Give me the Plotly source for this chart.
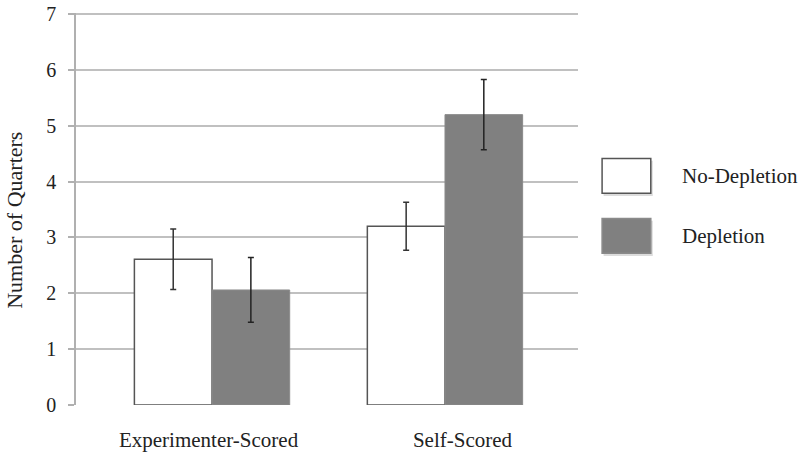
import plotly.graph_objects as go

categories = ["Experimenter-Scored", "Self-Scored"]
no_depletion = [2.61, 3.20]
no_depletion_err = [0.54, 0.43]
depletion = [2.06, 5.20]
depletion_err = [0.58, 0.63]
y_ticks = [0, 1, 2, 3, 4, 5, 6, 7]

serif = "Liberation Serif, Times New Roman, serif"
x_pos = list(range(len(categories)))
# the original's category labels sit a little off the bar-pair centres
label_shift = [-0.015, 0.075]

fig = go.Figure()
fig.add_trace(go.Bar(
    x=x_pos, y=no_depletion, name="No-Depletion",
    marker=dict(color="white", line=dict(color="#555555", width=1.5)),
    error_y=dict(type="data", array=no_depletion_err, color="#333333", thickness=1.5, width=3),
))
fig.add_trace(go.Bar(
    x=x_pos, y=depletion, name="Depletion",
    marker=dict(color="#808080", line=dict(color="#8a8a8a", width=1)),
    error_y=dict(type="data", array=depletion_err, color="#222222", thickness=1.5, width=3),
))

# legend drawn by hand (boxes with a soft shadow, like the original)
legend_items = [("No-Depletion", "white", "#555555"), ("Depletion", "#808080", "#8a8a8a")]
for i, (label, fill, edge) in enumerate(legend_items):
    y0 = 0.629 - i * 0.153
    fig.add_shape(type="rect", xref="paper", yref="paper",
                  x0=1.051, x1=1.149, y0=y0 - 0.096, y1=y0 - 0.006,
                  fillcolor="#dcdcdc", line=dict(width=0), layer="below")
    fig.add_shape(type="rect", xref="paper", yref="paper",
                  x0=1.048, x1=1.145, y0=y0 - 0.089, y1=y0,
                  fillcolor=fill, line=dict(color=edge, width=1.5))
    fig.add_annotation(x=1.203, y=y0 - 0.045, xref="paper", yref="paper",
                       text=label, showarrow=False, xanchor="left", yanchor="middle",
                       font=dict(family=serif, size=21, color="#222222"))

# y axis title placed as a rotated annotation
fig.add_annotation(x=-0.1215, y=0.47, xref="paper", yref="paper",
                   text="Number of Quarters", showarrow=False, textangle=-90,
                   xanchor="center", yanchor="middle",
                   font=dict(family=serif, size=22, color="#222222"))

fig.update_layout(
    width=800, height=460,
    margin=dict(l=76, r=222, t=13, b=55),
    paper_bgcolor="white", plot_bgcolor="white",
    barmode="group", bargap=1/3, bargroupgap=0,
    showlegend=False,
    font=dict(family=serif, size=20, color="#222222"),
    xaxis=dict(
        range=[-0.584, 1.571],
        tickvals=[p + s for p, s in zip(x_pos, label_shift)], ticktext=categories,
        showgrid=False, zeroline=False, showline=False,
        ticks="outside", ticklen=0, ticklabelstandoff=16,
        tickfont=dict(size=21), automargin=False,
    ),
    yaxis=dict(
        range=[0, 7.02], tickvals=y_ticks, showgrid=True, gridcolor="#c0c0c0", gridwidth=1.5,
        zeroline=False, showline=True, linecolor="#b0b0b0", linewidth=1.5,
        ticks="outside", ticklen=6, tickcolor="#b0b0b0", tickwidth=1.5,
        ticklabelstandoff=8, tickfont=dict(size=20), automargin=False,
        ticklabeloverflow="allow",
    ),
)

# drop the browser's default 8px body margin so the figure fills the window
fig.write_html("out.html", config={"displayModeBar": False},
               post_script="document.body.style.margin = '0';")
